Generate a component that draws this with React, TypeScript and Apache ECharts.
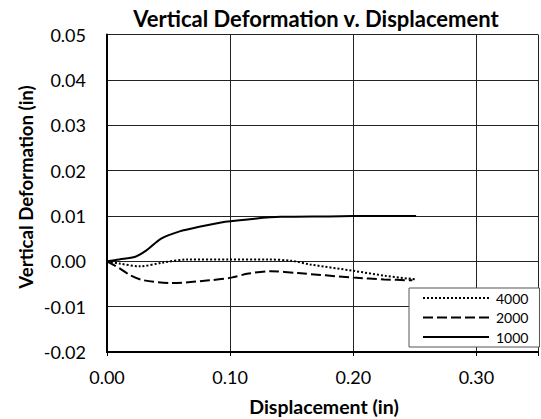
import React, { useEffect, useRef } from "react";
import * as echarts from "echarts";

const xTicks = [0, 0.1, 0.2, 0.3];
const yTicks = [-0.02, -0.01, 0, 0.01, 0.02, 0.03, 0.04, 0.05];

const x4000 = [0, 0.01, 0.027, 0.045, 0.065, 0.1, 0.13, 0.15, 0.165, 0.2, 0.226, 0.251];
const y4000 = [0, -0.0005, -0.0011, -0.0003, 0.0004, 0.0004, 0.0004, 0.0001, -0.0007, -0.0021, -0.0032, -0.004];

const x2000 = [0, 0.01, 0.019, 0.03, 0.053, 0.083, 0.101, 0.115, 0.133, 0.155, 0.2, 0.225, 0.248];
const y2000 = [0, -0.0015, -0.0031, -0.0042, -0.0048, -0.0042, -0.0036, -0.0027, -0.0022, -0.0026, -0.0036, -0.004, -0.0042];

const x1000 = [0, 0.01, 0.023, 0.032, 0.044, 0.059, 0.075, 0.096, 0.12, 0.141, 0.18, 0.22, 0.251];
const y1000 = [0, 0.0004, 0.001, 0.0024, 0.005, 0.0066, 0.0076, 0.0087, 0.0094, 0.0098, 0.0099, 0.01, 0.01];

const seriesNames = ["4000", "2000", "1000"];

const pair = (xs: number[], ys: number[]) => xs.map((x, i) => [x, ys[i]]);

const FONT = "Lato";

export default function App() {
  const ref = useRef<HTMLDivElement>(null);
  useEffect(() => {
    if (!ref.current) return;
    const chart = echarts.init(ref.current, null, { renderer: "svg" });
    const near = (v: number, arr: number[]) => arr.some((t) => Math.abs(t - v) < 1e-9);
    chart.setOption({
      animation: false,
      backgroundColor: "#fff",
      grid: { left: 107, top: 34.5, width: 439, height: 317.5, containLabel: false },
      xAxis: {
        type: "value",
        min: 0,
        max: 0.35,
        interval: 0.1,
        axisLine: { onZero: false, lineStyle: { color: "#000", width: 2 } },
        axisTick: { show: true, inside: false, length: 4, lineStyle: { color: "#000", width: 1 } },
        axisLabel: {
          margin: 16,
          color: "#000",
          fontFamily: FONT,
          fontSize: 18,
          formatter: (v: number) => (near(v, xTicks) ? v.toFixed(2) : ""),
        },
        splitLine: { show: true, lineStyle: { color: "#222", width: 1 } },
      },
      yAxis: {
        type: "value",
        min: -0.02,
        max: 0.05,
        interval: 0.01,
        axisLine: { onZero: false, lineStyle: { color: "#000", width: 2 } },
        axisTick: { show: false },
        axisLabel: {
          margin: 21,
          color: "#000",
          fontFamily: FONT,
          fontSize: 18,
          formatter: (v: number) => (near(v, yTicks) ? v.toFixed(2) : ""),
        },
        splitLine: { show: true, lineStyle: { color: "#222", width: 1 } },
      },
      legend: {
        data: seriesNames,
        orient: "vertical",
        left: 409,
        top: 288,
        itemWidth: 66,
        itemHeight: 14,
        itemGap: 5.5,
        padding: [3, 11, 3, 13],
        backgroundColor: "#fff",
        borderColor: "#555",
        borderWidth: 1,
        borderRadius: 0,
        itemStyle: { opacity: 0 },
        textStyle: { fontFamily: FONT, fontSize: 14, color: "#000", padding: [0, 0, 0, 2] },
      },
      series: [
        {
          name: "4000",
          type: "line",
          data: pair(x4000, y4000),
          showSymbol: false,
          symbol: "none",
          smooth: 0.3,
          color: "#000",
          lineStyle: { color: "#000", width: 2, type: [2, 2] },
        },
        {
          name: "2000",
          type: "line",
          data: pair(x2000, y2000),
          showSymbol: false,
          symbol: "none",
          smooth: 0.3,
          color: "#000",
          lineStyle: { color: "#000", width: 2, type: [10, 4] },
        },
        {
          name: "1000",
          type: "line",
          data: pair(x1000, y1000),
          showSymbol: false,
          symbol: "none",
          smooth: 0.3,
          color: "#000",
          lineStyle: { color: "#000", width: 2, type: "solid" },
        },
      ],
      graphic: [
        {
          type: "text",
          x: 316,
          y: 18,
          style: {
            text: "Vertical Deformation v. Displacement",
            font: `bold 22px ${FONT}`,
            fill: "#000",
            textAlign: "center",
            textVerticalAlign: "middle",
          },
        },
        {
          type: "text",
          x: 324,
          y: 406,
          style: {
            text: "Displacement (in)",
            font: `bold 19.5px ${FONT}`,
            fill: "#000",
            textAlign: "center",
            textVerticalAlign: "middle",
          },
        },
        {
          type: "text",
          x: 26,
          y: 187,
          rotation: Math.PI / 2,
          style: {
            text: "Vertical Deformation (in)",
            font: `bold 18.6px ${FONT}`,
            fill: "#000",
            textAlign: "center",
            textVerticalAlign: "middle",
          },
        },
      ],
    });
    return () => chart.dispose();
  }, []);
  return (
    <div
      ref={ref}
      style={{ position: "fixed", left: 0, top: 0, width: 541, height: 419, background: "#fff" }}
    />
  );
}
